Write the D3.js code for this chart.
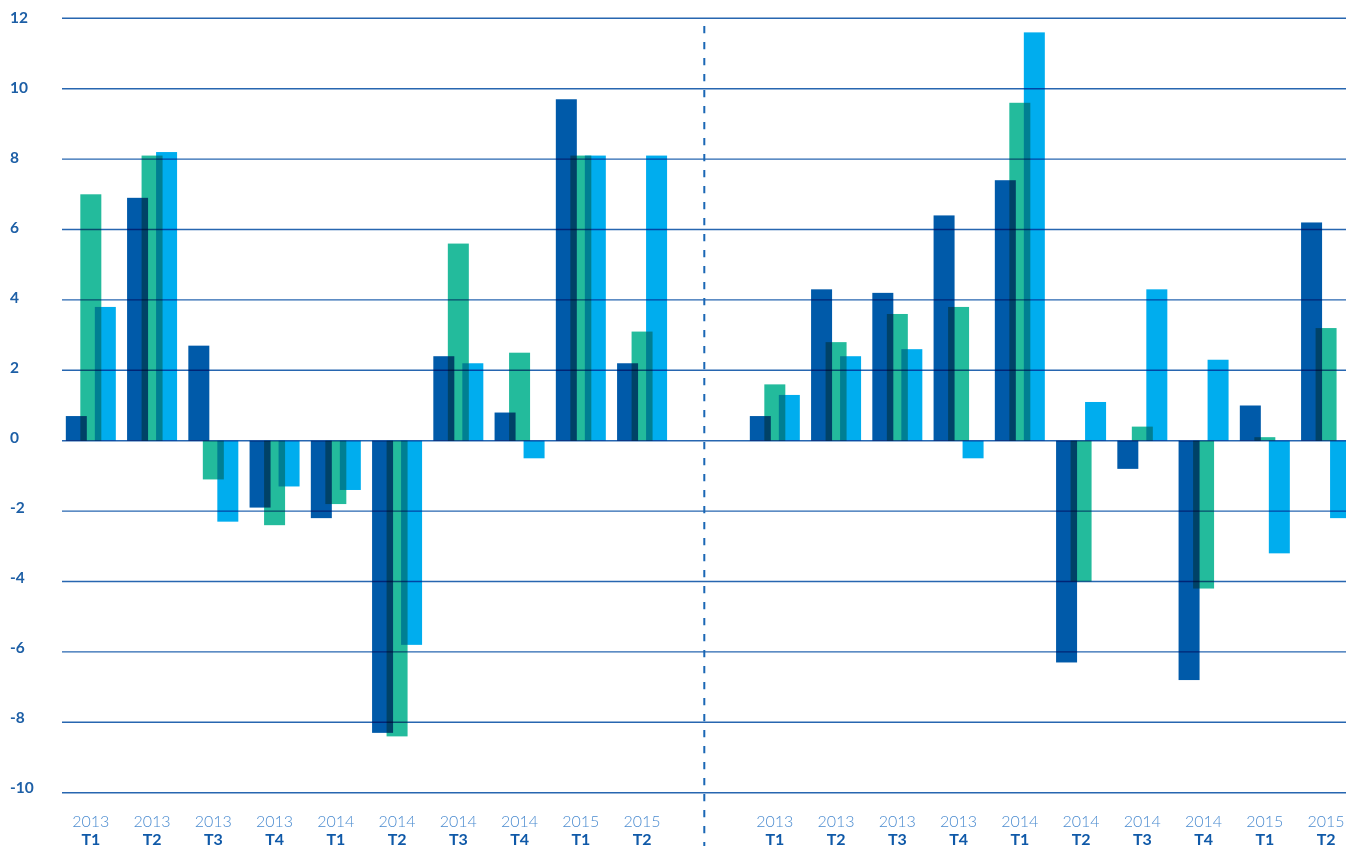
<!DOCTYPE html>
<html>
<head>
<meta charset="utf-8">
<script src="https://cdn.jsdelivr.net/npm/d3@7"></script>
<style>
	html, body { margin: 0; padding: 0; background: #fff; }
	#chart { width: 1355px; height: 846px; }
	.bar { mix-blend-mode: multiply; }
	.grid line { mix-blend-mode: multiply; }
</style>
</head>
<body>
<div id="chart"></div>
<script>
// categories
const years = ['2013','2013','2013','2013','2014','2014','2014','2014','2015','2015'];
const quarters = ['T1','T2','T3','T4','T1','T2','T3','T4','T1','T2'];

// left panel
const leftDark  = [0.7, 6.9, 2.7, -1.9, -2.2, -8.3, 2.4, 0.8, 9.7, 2.2];
const leftGreen = [7.0, 8.1, -1.1, -2.4, -1.8, -8.4, 5.6, 2.5, 8.1, 3.1];
const leftLight = [3.8, 8.2, -2.3, -1.3, -1.4, -5.8, 2.2, -0.5, 8.1, 8.1];

// right panel
const rightDark  = [0.7, 4.3, 4.2, 6.4, 7.4, -6.3, -0.8, -6.8, 1.0, 6.2];
const rightGreen = [1.6, 2.8, 3.6, 3.8, 9.6, -4.0, 0.4, -4.2, 0.1, 3.2];
const rightLight = [1.3, 2.4, 2.6, -0.5, 11.6, 1.1, 4.3, 2.3, -3.2, -2.2];

const yTicks = [-10, -8, -6, -4, -2, 0, 2, 4, 6, 8, 10, 12];

const config = {
	width: 1355,
	height: 846,
	gridLeft: 62,
	gridRight: 1346,
	barWidth: 21,
	groupWidth: 50,
	colours: { dark: '#005aa9', green: '#23bb9c', light: '#00adee' },
	font: 'Lato, "Open Sans", sans-serif'
};

const svg = d3.select('#chart')
	.append('svg')
	.attr('width', config.width)
	.attr('height', config.height)
	.style('background', '#fff')
	.style('isolation', 'isolate');

const y = d3.scaleLinear()
	.domain([-10, 12])
	.range([792.7, 18.3]);

// the tick labels sit on a slightly tighter spacing than the gridlines
const yLabel = d3.scaleLinear()
	.domain([-10, 12])
	.range([787, 17.5]);

// sub positions of the three overlapping bars inside a group
const series = ['dark', 'green', 'light'];
const sub = d3.scalePoint()
	.domain(series)
	.range([0, config.groupWidth - config.barWidth]);

svg.append('defs')
	.append('clipPath')
	.attr('id', 'clip')
	.append('rect')
	.attr('x', 0)
	.attr('y', 0)
	.attr('width', config.gridRight)
	.attr('height', config.height);

const bars = svg.append('g').attr('clip-path', 'url(#clip)');

function drawPanel(range, dark, green, light) {
	const x = d3.scaleBand()
		.domain(d3.range(years.length))
		.range(range);

	const rows = d3.range(years.length).map(i => ({ i, dark: dark[i], green: green[i], light: light[i] }));
	const inset = (x.bandwidth() - config.groupWidth) / 2;

	series.forEach(s => {
		bars.append('g')
			.selectAll('rect')
			.data(rows)
			.enter()
			.append('rect')
				.attr('class', 'bar')
				.attr('x', d => x(d.i) + inset + sub(s))
				.attr('y', d => y(Math.max(0, d[s])))
				.attr('width', config.barWidth)
				.attr('height', d => Math.abs(y(d[s]) - y(0)))
				.attr('fill', config.colours[s]);
	});

	// category labels
	const labels = svg.append('g')
		.selectAll('g')
		.data(rows)
		.enter()
		.append('g')
			.attr('transform', d => `translate(${x(d.i) + x.bandwidth() / 2},0)`);

	labels.append('text')
		.attr('y', 827)
		.attr('text-anchor', 'middle')
		.attr('font-family', config.font)
		.attr('font-size', '16px')
		.attr('font-weight', 300)
		.attr('fill', '#4a8bd0')
		.text(d => years[d.i]);

	labels.append('text')
		.attr('y', 844.5)
		.attr('text-anchor', 'middle')
		.attr('font-family', config.font)
		.attr('font-size', '16px')
		.attr('font-weight', 700)
		.attr('fill', '#0f59a8')
		.text(d => quarters[d.i]);
}

drawPanel([60.2, 672.7], leftDark, leftGreen, leftLight);
drawPanel([744.2, 1356.7], rightDark, rightGreen, rightLight);

// gridlines on top of the bars
svg.append('g')
	.attr('class', 'grid')
	.selectAll('line')
	.data(yTicks)
	.enter()
	.append('line')
		.attr('x1', config.gridLeft)
		.attr('x2', config.gridRight)
		.attr('y1', d => y(d))
		.attr('y2', d => y(d))
		.attr('stroke', '#2766b0')
		.attr('stroke-width', 1.4);

// y labels
svg.append('g')
	.selectAll('text')
	.data(yTicks)
	.enter()
	.append('text')
		.attr('x', 10)
		.attr('y', d => yLabel(d))
		.attr('dy', '0.36em')
		.attr('font-family', config.font)
		.attr('font-size', '15.5px')
		.attr('font-weight', 700)
		.attr('fill', '#1d5fa6')
		.text(d => d);

// divider between the two panels
svg.append('line')
	.attr('x1', 704.3)
	.attr('x2', 704.3)
	.attr('y1', 26)
	.attr('y2', config.height)
	.attr('stroke', '#1a67b5')
	.attr('stroke-width', 2)
	.attr('stroke-dasharray', '7.3,8.7');
</script>
</body>
</html>
